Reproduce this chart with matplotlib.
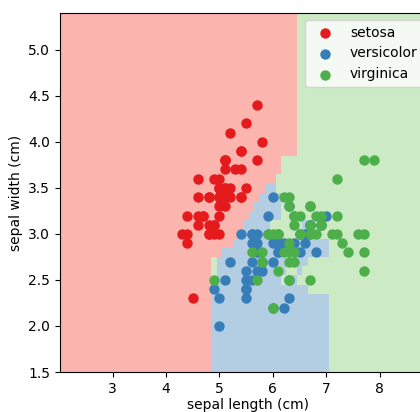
import numpy as np
import matplotlib.pyplot as plt
from matplotlib.colors import ListedColormap

species = ["setosa", "versicolor", "virginica"]
point_colors = ["#e41a1c", "#377eb8", "#4daf4a"]
region_colors = ["#fbb4ae", "#b3cde3", "#ccebc5"]

# iris, sepal length / sepal width (cm)
setosa_length = [5.1, 4.9, 4.7, 4.6, 5.0, 5.4, 4.6, 5.0, 4.4, 4.9, 5.4, 4.8, 4.8, 4.3, 5.8, 5.7, 5.4,
                 5.1, 5.7, 5.1, 5.4, 5.1, 4.6, 5.1, 4.8, 5.0, 5.0, 5.2, 5.2, 4.7, 4.8, 5.4, 5.2, 5.5,
                 4.9, 5.0, 5.5, 4.9, 4.4, 5.1, 5.0, 4.5, 4.4, 5.0, 5.1, 4.8, 5.1, 4.6, 5.3, 5.0]
setosa_width = [3.5, 3.0, 3.2, 3.1, 3.6, 3.9, 3.4, 3.4, 2.9, 3.1, 3.7, 3.4, 3.0, 3.0, 4.0, 4.4, 3.9,
                3.5, 3.8, 3.8, 3.4, 3.7, 3.6, 3.3, 3.4, 3.0, 3.4, 3.5, 3.4, 3.2, 3.1, 3.4, 4.1, 4.2,
                3.1, 3.2, 3.5, 3.6, 3.0, 3.4, 3.5, 2.3, 3.2, 3.5, 3.8, 3.0, 3.8, 3.2, 3.7, 3.3]
versicolor_length = [7.0, 6.4, 6.9, 5.5, 6.5, 5.7, 6.3, 4.9, 6.6, 5.2, 5.0, 5.9, 6.0, 6.1, 5.6, 6.7, 5.6,
                     5.8, 6.2, 5.6, 5.9, 6.1, 6.3, 6.1, 6.4, 6.6, 6.8, 6.7, 6.0, 5.7, 5.5, 5.5, 5.8, 6.0,
                     5.4, 6.0, 6.7, 6.3, 5.6, 5.5, 5.5, 6.1, 5.8, 5.0, 5.6, 5.7, 5.7, 6.2, 5.1, 5.7]
versicolor_width = [3.2, 3.2, 3.1, 2.3, 2.8, 2.8, 3.3, 2.4, 2.9, 2.7, 2.0, 3.0, 2.2, 2.9, 2.9, 3.1, 3.0,
                    2.7, 2.2, 2.5, 3.2, 2.8, 2.5, 2.8, 2.9, 3.0, 2.8, 3.0, 2.9, 2.6, 2.4, 2.4, 2.7, 2.7,
                    3.0, 3.4, 3.1, 2.3, 3.0, 2.5, 2.6, 3.0, 2.6, 2.3, 2.7, 3.0, 2.9, 2.9, 2.5, 2.8]
virginica_length = [6.3, 5.8, 7.1, 6.3, 6.5, 7.6, 4.9, 7.3, 6.7, 7.2, 6.5, 6.4, 6.8, 5.7, 5.8, 6.4, 6.5,
                    7.7, 7.7, 6.0, 6.9, 5.6, 7.7, 6.3, 6.7, 7.2, 6.2, 6.1, 6.4, 7.2, 7.4, 7.9, 6.4, 6.3,
                    6.1, 7.7, 6.3, 6.4, 6.0, 6.9, 6.7, 6.9, 5.8, 6.8, 6.7, 6.7, 6.3, 6.5, 6.2, 5.9]
virginica_width = [3.3, 2.7, 3.0, 2.9, 3.0, 3.0, 2.5, 2.9, 2.5, 3.6, 3.2, 2.7, 3.0, 2.5, 2.8, 3.2, 3.0,
                   3.8, 2.6, 2.2, 3.2, 2.8, 2.8, 2.7, 3.3, 3.2, 2.8, 3.0, 2.8, 3.0, 2.8, 3.8, 2.8, 2.8,
                   2.6, 3.0, 3.4, 3.1, 3.0, 3.1, 3.1, 3.1, 2.7, 3.2, 3.3, 3.0, 2.5, 3.0, 3.4, 3.0]

# predicted class on a 0.1 cm mesh, r/b/g = setosa/versicolor/virginica
# outside the detailed block: setosa left of 4.85, virginica right of 7.05,
# above 4.05 setosa left of 6.45 and virginica right of it
split_left = 4.85
split_right = 7.05
split_top_y = 4.05
split_top_x = 6.45
detail_x = [4.9, 5.0, 5.1, 5.2, 5.3, 5.4, 5.5, 5.6, 5.7, 5.8, 5.9,
            6.0, 6.1, 6.2, 6.3, 6.4, 6.5, 6.6, 6.7, 6.8, 6.9, 7.0]
detail_y = [4.0, 3.9, 3.8, 3.7, 3.6, 3.5, 3.4, 3.3, 3.2, 3.1, 3.0, 2.9, 2.8,
            2.7, 2.6, 2.5, 2.4, 2.3, 2.2, 2.1, 2.0, 1.9, 1.8, 1.7, 1.6, 1.5]
detail_rows = [
    "rrrrrrrrrrrrrrrrgggggg",
    "rrrrrrrrrrrrrrrrgggggg",
    "rrrrrrrrrrrrrggggggggg",
    "rrrrrrrrrrrrrggggggggg",
    "rrrrrrrrrrrrgggggggggg",
    "rrrrrrrrrrbbgggggggggg",
    "rrrrrrrrrbbbbggggggggg",
    "rrrrrrrrbbbbbggggggggg",
    "rrrrrrrbbbbbbggggggggg",
    "rrrrrrbbbbbggggggbbggg",
    "rrrrrbbbbbgggggggbgggg",
    "rrrrbbbbbbbbbbgbbbbbbb",
    "rrbbbbbgbgbbbgggbbbbbb",
    "gbbbbbbbbgbbbbggbbgggg",
    "gbbbbbbbbbbbgbggbggggg",
    "gbbbbbbgbbbbbggbgggggg",
    "bbbbbbbbbbbbbbbbbbgggg",
    "bbbbbbbbbbbbbbbbbbbbbb",
    "bbbbbbbbbbbbbbbbbbbbbb",
    "bbbbbbbbbbbbbbbbbbbbbb",
    "bbbbbbbbbbbbbbbbbbbbbb",
    "bbbbbbbbbbbbbbbbbbbbbb",
    "bbbbbbbbbbbbbbbbbbbbbb",
    "bbbbbbbbbbbbbbbbbbbbbb",
    "bbbbbbbbbbbbbbbbbbbbbb",
    "bbbbbbbbbbbbbbbbbbbbbb",
]
x_ticks = [3, 4, 5, 6, 7, 8]

xc = np.round(np.arange(2.0, 9.15, 0.1), 2)
yc = np.round(np.arange(1.5, 5.45, 0.1), 2)
XX, YY = np.meshgrid(xc, yc)
Z = np.where(XX < split_left, 0, np.where(XX > split_right, 2, 1))
Z = np.where((YY > split_top_y) & (XX > split_left) & (XX < split_right),
             np.where(XX < split_top_x, 0, 2), Z)
code = {"r": 0, "b": 1, "g": 2}
for y, row in zip(detail_y, detail_rows):
    i = int(np.argmin(np.abs(yc - y)))
    for x, c in zip(detail_x, row):
        j = int(np.argmin(np.abs(xc - x)))
        Z[i, j] = code[c]

fig = plt.figure(figsize=(4.2, 4.12), dpi=100)
ax = fig.add_axes([60 / 420, 40 / 412, 375 / 420, 359 / 412])

ax.pcolormesh(np.append(xc - 0.05, xc[-1] + 0.05), np.append(yc - 0.05, yc[-1] + 0.05), Z,
              cmap=ListedColormap(region_colors), vmin=-0.5, vmax=2.5)

data = [(setosa_length, setosa_width), (versicolor_length, versicolor_width),
        (virginica_length, virginica_width)]
for (xs, ys), name, col in zip(data, species, point_colors):
    ax.scatter(xs, ys, color=col, s=42, label=name, zorder=3)

ax.set_xlim(2.01, 9.04)
ax.set_ylim(1.5, 5.4)
ax.set_xticks(x_ticks)
ax.set_xlabel("sepal length (cm)", labelpad=2)
ax.set_ylabel("sepal width (cm)")
# legend sits near the right edge of the picture, as in the original crop
ax.legend(loc="upper right", bbox_to_anchor=(0.987, 1.0))

fig.savefig("out.png", dpi=100)
